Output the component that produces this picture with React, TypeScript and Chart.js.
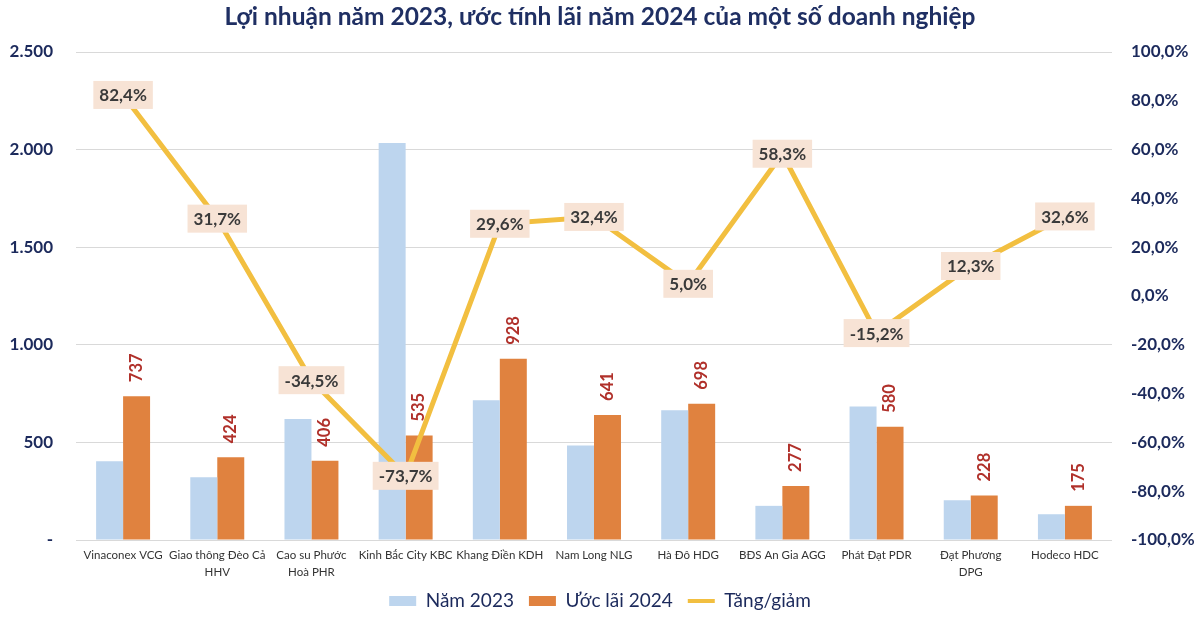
import React, { useEffect, useRef } from "react";
import { Chart, registerables } from "chart.js";

Chart.register(...registerables);

const categories: (string | string[])[] = [
  "Vinaconex VCG",
  ["Giao thông Đèo Cả", "HHV"],
  ["Cao su Phước", "Hoà PHR"],
  "Kinh Bắc City KBC",
  "Khang Điền KDH",
  "Nam Long NLG",
  "Hà Đô HDG",
  "BĐS An Gia AGG",
  "Phát Đạt PDR",
  ["Đạt Phương", "DPG"],
  "Hodeco HDC",
];
const profit2023: number[] = [404, 322, 620, 2034, 716, 484, 665, 175, 684, 203, 132];
const estimate2024: number[] = [737, 424, 406, 535, 928, 641, 698, 277, 580, 228, 175];
const changePct: number[] = [82.4, 31.7, -34.5, -73.7, 29.6, 32.4, 5.0, 58.3, -15.2, 12.3, 32.6];

const TITLE = "Lợi nhuận năm 2023, ước tính lãi năm 2024 của một số doanh nghiệp";
const FONT = "Lato, 'Open Sans', sans-serif";
const NAVY = "#1C2A5C";

const labelPlugin = {
  id: "valueLabels",
  afterDatasetsDraw(chart: any) {
    const ctx = chart.ctx as CanvasRenderingContext2D;
    const barMeta = chart.getDatasetMeta(1);
    ctx.save();
    ctx.font = `bold 16.5px ${FONT}`;
    ctx.fillStyle = "#B0302A";
    ctx.textAlign = "left";
    ctx.textBaseline = "middle";
    barMeta.data.forEach((el: any, i: number) => {
      ctx.save();
      ctx.translate(el.x, el.y - 14);
      ctx.rotate(-Math.PI / 2);
      ctx.fillText(String(estimate2024[i]), 0, 0);
      ctx.restore();
    });
    ctx.restore();
    const lineMeta = chart.getDatasetMeta(2);
    ctx.save();
    ctx.font = `bold 17px ${FONT}`;
    ctx.textAlign = "center";
    ctx.textBaseline = "middle";
    lineMeta.data.forEach((el: any, i: number) => {
      const txt = changePct[i].toFixed(1).replace(".", ",") + "%";
      const w = ctx.measureText(txt).width + 12;
      const h = 28;
      ctx.fillStyle = "#F7E3D5";
      ctx.fillRect(el.x - w / 2, el.y - h / 2, w, h);
      ctx.fillStyle = "#3A3A3A";
      ctx.fillText(txt, el.x, el.y + 1);
    });
    ctx.restore();
  },
};

const bgPlugin = {
  id: "whiteBg",
  beforeDraw(chart: any) {
    const ctx = chart.ctx;
    ctx.save();
    ctx.fillStyle = "#ffffff";
    ctx.fillRect(0, 0, chart.width, chart.height);
    ctx.restore();
    const sx = chart.scales && chart.scales.x;
    if (sx) sx._computeLabelArea = () => undefined;
  },
};

export default function App() {
  const ref = useRef<HTMLCanvasElement | null>(null);
  useEffect(() => {
    if (!ref.current) return;
    const chart = new Chart(ref.current, {
      type: "bar",
      data: {
        labels: categories as any,
        datasets: [
          {
            label: "Năm 2023",
            data: profit2023,
            backgroundColor: "#BDD5EE",
            borderWidth: 0,
            yAxisID: "y",
            order: 1,
            categoryPercentage: 0.573,
            barPercentage: 1,
          } as any,
          {
            label: "Ước lãi 2024",
            data: estimate2024,
            backgroundColor: "#E0823F",
            borderWidth: 0,
            yAxisID: "y",
            order: 1,
            categoryPercentage: 0.573,
            barPercentage: 1,
          } as any,
          {
            type: "line",
            label: "Tăng/giảm",
            data: changePct,
            borderColor: "#F2BF40",
            backgroundColor: "#F2BF40",
            borderWidth: 5,
            pointRadius: 0,
            tension: 0,
            yAxisID: "y1",
            order: 0,
          } as any,
        ],
      },
      options: {
        responsive: false,
        animation: false,
        devicePixelRatio: 1,
        layout: { padding: { top: 0, left: 0, right: 0, bottom: -2.5 } },
        plugins: {
          title: {
            display: true,
            text: TITLE,
            color: "#1F2F63",
            font: { family: FONT, size: 24.5, weight: "bold", lineHeight: 1.2 },
            padding: { top: 2.3, bottom: 20.3 },
          },
          legend: {
            position: "bottom",
            labels: {
              usePointStyle: true,
              pointStyleWidth: 27,
              boxHeight: 10,
              padding: 15,
              color: NAVY,
              font: { family: FONT, size: 19 },
              generateLabels: (c: any) =>
                c.data.datasets.map((ds: any, i: number) => ({
                  text: ds.label,
                  fillStyle: i < 2 ? ds.backgroundColor : "rgba(0,0,0,0)",
                  strokeStyle: i < 2 ? ds.backgroundColor : ds.borderColor,
                  lineWidth: i < 2 ? 0 : 4,
                  pointStyle: i < 2 ? "rect" : "line",
                  hidden: false,
                  datasetIndex: i,
                  fontColor: NAVY,
                })),
            },
          },
          tooltip: { enabled: false },
        },
        scales: {
          x: {
            grid: { display: false, drawTicks: false },
            border: { display: false },
            ticks: {
              autoSkip: false,
              maxRotation: 0,
              minRotation: 0,
              padding: 7,
              color: "#333333",
              font: { family: FONT, size: 11.5, lineHeight: 1.45 },
            },
            afterFit: (s: any) => {
              s.height = 36.5;
            },
          },
          y: {
            position: "left",
            min: 0,
            max: 2500,
            grid: { color: "#D9D9D9", lineWidth: 1, drawTicks: false },
            border: { display: false },
            ticks: {
              stepSize: 500,
              padding: 23,
              color: NAVY,
              font: { family: FONT, size: 17, weight: "bold" },
              callback: (v: any) =>
                Number(v) === 0 ? "-" : Number(v).toLocaleString("de-DE"),
            },
            afterFit: (s: any) => {
              s.width = 76;
            },
          },
          y1: {
            position: "right",
            min: -100,
            max: 100,
            grid: { display: false, drawTicks: false },
            border: { display: false },
            ticks: {
              stepSize: 20,
              padding: 19,
              color: NAVY,
              font: { family: FONT, size: 17, weight: "bold" },
              callback: (v: any) => Number(v).toFixed(1).replace(".", ",") + "%",
            },
            afterFit: (s: any) => {
              s.width = 88;
            },
          },
        },
      } as any,
      plugins: [bgPlugin, labelPlugin],
    });
    return () => chart.destroy();
  }, []);
  return (
    <div style={{ position: "fixed", left: 0, top: 0, width: 1200, height: 618, background: "#fff" }}>
      <canvas ref={ref} width={1200} height={618} style={{ display: "block" }} />
    </div>
  );
}
